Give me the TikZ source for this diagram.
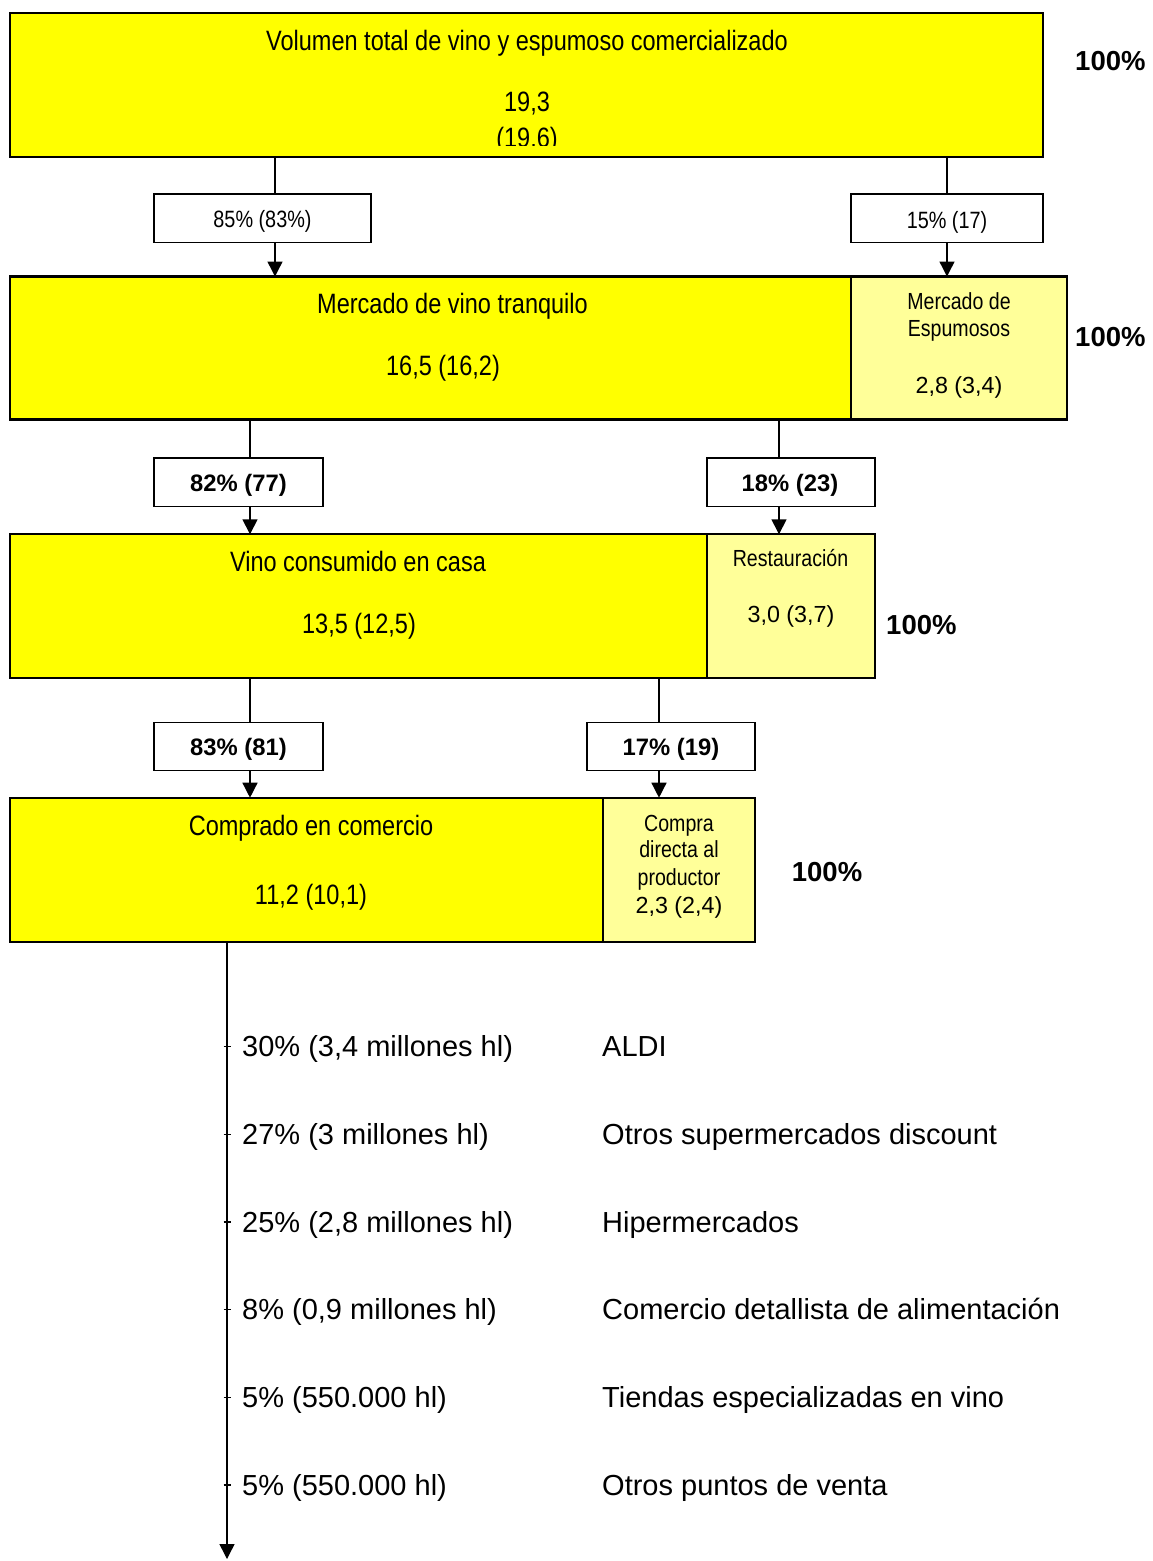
\documentclass[tikz,border=0pt]{standalone}
\usepackage{fontspec}
\setmainfont{Liberation Sans}
\newfontfamily\nar[FakeStretch=0.84]{Liberation Sans}
\usetikzlibrary{arrows.meta}
\definecolor{yel}{HTML}{FFFF00}
\definecolor{lyel}{HTML}{FFFF99}
\tikzset{
 boxA/.style={draw, line width=2.2pt, fill=yel, anchor=north west, inner sep=0pt, outer sep=0pt},
 boxB/.style={boxA, fill=lyel},
 lab/.style={draw, line width=1.9pt, fill=white, anchor=north west, inner sep=0pt, outer sep=0pt},
 big/.style={anchor=base, inner sep=0pt, font=\nar\fontsize{28}{32}\selectfont},
 small/.style={anchor=base, inner sep=0pt, font=\nar\fontsize{23.3}{27}\selectfont},
 val/.style={anchor=base, inner sep=0pt, font=\fontsize{23.3}{27}\selectfont},
 labn/.style={anchor=base, inner sep=0pt, font=\nar\fontsize{23.6}{27}\selectfont},
 labb/.style={anchor=base, inner sep=0pt, font=\bfseries\fontsize{23.8}{27}\selectfont},
 pct/.style={anchor=base west, inner sep=0pt, font=\bfseries\fontsize{27.5}{32}\selectfont},
 lst/.style={anchor=base west, inner sep=0pt, font=\fontsize{29}{34}\selectfont},
 conn/.style={line width=1.4pt},
 arr/.style={conn, -{Triangle[length=15pt,width=15pt]}},
}
\begin{document}
\begin{tikzpicture}[x=1pt,y=-1pt]
\useasboundingbox (0,0) rectangle (1152,1561);
\fill[white] (0,0) rectangle (1152,1561);

% main boxes
\node[boxA, minimum width=1033pt, minimum height=144pt] (b1) at (10,13) {};
\node[boxA, minimum width=841pt, minimum height=143pt] (b2) at (10,276.5) {};
\node[boxB, minimum width=216pt, minimum height=143pt] (b2r) at (851,276.5) {};
\node[boxA, minimum width=697pt, minimum height=143.4pt] (b3) at (10,534.3) {};
\node[boxB, minimum width=168pt, minimum height=143.4pt] (b3r) at (707,534.3) {};
\node[boxA, minimum width=593pt, minimum height=144pt] (b4) at (10,797.7) {};
\node[boxB, minimum width=152pt, minimum height=144pt] (b4r) at (603,797.7) {};

% label boxes
\node[lab, minimum width=217pt, minimum height=48.5pt] (L1) at (154,194) {};
\node[lab, minimum width=192pt, minimum height=48.5pt] (L2) at (851,194) {};
\node[lab, minimum width=169pt, minimum height=48.5pt] (L3) at (154,458) {};
\node[lab, minimum width=168pt, minimum height=48.5pt] (L4) at (707,458) {};
\node[lab, minimum width=169pt, minimum height=48pt] (L5) at (154,722.5) {};
\node[lab, minimum width=168pt, minimum height=48pt] (L6) at (587,722.5) {};

% connector x positions
\coordinate (c1) at (275,0);
\coordinate (c2) at (947,0);
\coordinate (c3) at (250,0);
\coordinate (c4) at (779,0);
\coordinate (c5) at (250,0);
\coordinate (c6) at (659,0);
\coordinate (bend) at (227,1559);

\draw[conn] (b1.south -| c1) -- (L1.north -| c1);
\draw[arr] (L1.south -| c1) -- (b2.north -| c1);
\draw[conn] (b1.south -| c2) -- (L2.north -| c2);
\draw[arr] (L2.south -| c2) -- (b2r.north -| c2);
\draw[conn] (b2.south -| c3) -- (L3.north -| c3);
\draw[arr] (L3.south -| c3) -- (b3.north -| c3);
\draw[conn] (b2.south -| c4) -- (L4.north -| c4);
\draw[arr] (L4.south -| c4) -- (b3r.north -| c4);
\draw[conn] (b3.south -| c5) -- (L5.north -| c5);
\draw[arr] (L5.south -| c5) -- (b4.north -| c5);
\draw[conn] (b3.south -| c6) -- (L6.north -| c6);
\draw[arr] (L6.south -| c6) -- (b4r.north -| c6);
\draw[arr] (b4.south -| bend) -- (bend);

% ticks
\foreach \y in {1046.5,1134.2,1221.9,1309.6,1397.3,1485.0}
  \draw[conn] (223.5,\y) -- (230.5,\y);

% box texts
\node[big] (t1a) at (527,50.7) {Volumen total de vino y espumoso comercializado};
\node[big] (t1b) at (527,111.7) {19,3};
\begin{scope}
\clip (10,13) rectangle (1043,145);
\node[big] (t1c) at (527,147.3) {(19,6)};
\end{scope}
\node[big] (t2a) at (452.5,313.3) {Mercado de vino tranquilo};
\node[big] (t2b) at (443,375) {16,5 (16,2)};
\node[small] (t2c) at (959,309.3) {Mercado de};
\node[small] (t2d) at (959,336) {Espumosos};
\node[val] (t2e) at (959,393.3) {2,8 (3,4)};
\node[big] (t3a) at (358,571.7) {Vino consumido en casa};
\node[big] (t3b) at (359,633) {13,5 (12,5)};
\node[small] (t3c) at (790.5,566.7) {Restauración};
\node[val] (t3d) at (791,622.7) {3,0 (3,7)};
\node[big] (t4a) at (311,835) {Comprado en comercio};
\node[big] (t4b) at (311,904) {11,2 (10,1)};
\node[small] (t4c) at (679,831) {Compra};
\node[small] (t4d) at (679,857.7) {directa al};
\node[small] (t4e) at (679,885) {productor};
\node[val] (t4f) at (679,913.3) {2,3 (2,4)};

% 100% labels
\node[pct] (p1) at (1075,70) {100\%};
\node[pct] (p2) at (1075,346.7) {100\%};
\node[pct] (p3) at (886,634) {100\%};
\node[pct] (p4) at (791.7,881) {100\%};

% label texts
\node[labn] (l1) at (262.5,227.7) {85\% (83\%)};
\node[labn] (l2) at (947,228.3) {15\% (17)};
\node[labb] (l3) at (238.5,491.7) {82\% (77)};
\node[labb] (l4) at (790,491.7) {18\% (23)};
\node[labb] (l5) at (238.5,755) {83\% (81)};
\node[labb] (l6) at (671,755) {17\% (19)};

% list
\node[lst] (r1a) at (242,1056.7) {30\% (3,4 millones hl)};
\node[lst] (r1b) at (602,1056.7) {ALDI};
\node[lst] (r2a) at (242,1144.4) {27\% (3 millones hl)};
\node[lst] (r2b) at (602,1144.4) {Otros supermercados discount};
\node[lst] (r3a) at (242,1232.1) {25\% (2,8 millones hl)};
\node[lst] (r3b) at (602,1232.1) {Hipermercados};
\node[lst] (r4a) at (242,1319.8) {8\% (0,9 millones hl)};
\node[lst] (r4b) at (602,1319.8) {Comercio detallista de alimentación};
\node[lst] (r5a) at (242,1407.5) {5\% (550.000 hl)};
\node[lst] (r5b) at (602,1407.5) {Tiendas especializadas en vino};
\node[lst] (r6a) at (242,1495.2) {5\% (550.000 hl)};
\node[lst] (r6b) at (602,1495.2) {Otros puntos de venta};
\end{tikzpicture}
\end{document}
